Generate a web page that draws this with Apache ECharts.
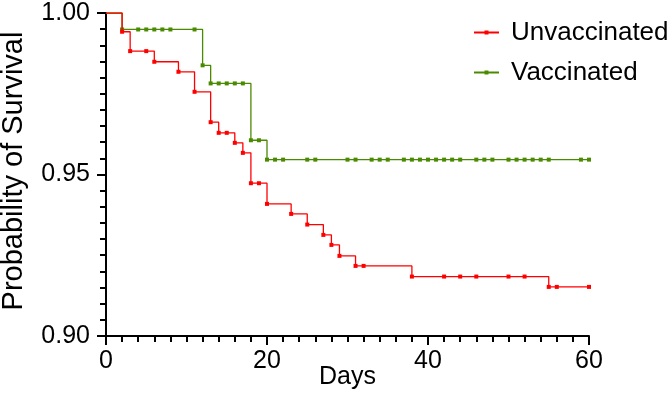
<!DOCTYPE html>
<html>
<head>
<meta charset="utf-8">
<script src="https://cdn.jsdelivr.net/npm/echarts@6/dist/echarts.min.js"></script>
<style>
html,body{margin:0;padding:0;background:#fff;}
#chart{width:669px;height:415px;}
</style>
</head>
<body>
<div id="chart"></div>
<script>
// Unvaccinated (red) Kaplan-Meier points: day, survival probability
var unvacDays = [0, 2, 3, 5, 6, 9, 11, 13, 14, 15, 16, 17, 18, 19, 20, 23, 25, 27, 28, 29, 31, 32, 38, 42, 44, 46, 50, 52, 55, 56, 60];
var unvacSurv = [1.0, 0.9942, 0.9882, 0.9882, 0.9849, 0.9818, 0.9756, 0.9662, 0.9629, 0.9629, 0.9598, 0.9567, 0.9473, 0.9473, 0.9409, 0.9378, 0.9345, 0.9313, 0.9282, 0.9248, 0.9217, 0.9217, 0.9184, 0.9184, 0.9184, 0.9184, 0.9184, 0.9184, 0.9152, 0.9152, 0.9152];

// Vaccinated (green)
var vacDays = [0, 2, 4, 5, 6, 7, 8, 11, 12, 13, 14, 15, 16, 17, 18, 19, 20, 21, 22, 25, 26, 30, 31, 33, 34, 35, 37, 38, 39, 40, 41, 42, 43, 44, 46, 47, 48, 50, 51, 52, 53, 54, 55, 59, 60];
var vacSurv = [1.0, 0.9949, 0.9949, 0.9949, 0.9949, 0.9949, 0.9949, 0.9949, 0.9838, 0.9782, 0.9782, 0.9782, 0.9782, 0.9782, 0.9606, 0.9606, 0.9546, 0.9546, 0.9546, 0.9546, 0.9546, 0.9546, 0.9546, 0.9546, 0.9546, 0.9546, 0.9546, 0.9546, 0.9546, 0.9546, 0.9546, 0.9546, 0.9546, 0.9546, 0.9546, 0.9546, 0.9546, 0.9546, 0.9546, 0.9546, 0.9546, 0.9546, 0.9546, 0.9546, 0.9546];

var seriesNames = ['Unvaccinated', 'Vaccinated'];
var xTickLabels = ['0', '20', '40', '60'];
var yTickLabels = ['0.90', '0.95', '1.00'];

var RED = '#ff0000';
var GREEN = '#4a8a00';
var FONT = '"Liberation Sans", Arial, Helvetica, sans-serif';

function build(days, surv) {
  return days.map(function (d, i) {
    var item = { value: [d, surv[i]] };
    if (i === 0) item.symbol = 'none';
    return item;
  });
}

var chart = echarts.init(document.getElementById('chart'), null, { renderer: 'canvas' });
chart.setOption({
  animation: false,
  backgroundColor: '#fff',
  grid: { left: 106, right: 80, top: 13, bottom: 79, containLabel: false, outerBoundsMode: 'none' },
  legend: {
    orient: 'vertical',
    left: 473,
    top: 19,
    padding: 0,
    itemWidth: 25,
    itemHeight: 5,
    itemGap: 13,
    data: seriesNames,
    textStyle: { fontFamily: FONT, fontSize: 26, color: '#000', lineHeight: 27, padding: [0, 0, 0, 7] }
  },
  xAxis: {
    type: 'value',
    min: 0, max: 60, interval: 20,
    name: 'Days',
    nameLocation: 'middle',
    nameGap: 29,
    nameMoveOverlap: false,
    nameTextStyle: { fontFamily: FONT, fontSize: 25, color: '#000' },
    axisLine: { lineStyle: { color: '#000', width: 2 } },
    axisTick: { length: 9, lineStyle: { color: '#000', width: 2 } },
    minorTick: { show: true, splitNumber: 10, length: 6, lineStyle: { color: '#000', width: 2 } },
    splitLine: { show: false },
    axisLabel: {
      margin: 13, fontFamily: FONT, fontSize: 25, color: '#000',
      formatter: function (v) { var i = xTickLabels.indexOf(String(v)); return i >= 0 ? xTickLabels[i] : ''; }
    }
  },
  yAxis: {
    type: 'value',
    min: 0.9, max: 1.0, interval: 0.05,
    name: 'Probability of Survival',
    nameLocation: 'middle',
    nameGap: 78,
    nameMoveOverlap: false,
    nameTextStyle: { fontFamily: FONT, fontSize: 29, color: '#000', padding: [0, 0, 0, 7] },
    axisLine: { show: true, lineStyle: { color: '#000', width: 2 } },
    axisTick: { show: true, length: 9, lineStyle: { color: '#000', width: 2 } },
    minorTick: { show: true, splitNumber: 10, length: 6, lineStyle: { color: '#000', width: 2 } },
    splitLine: { show: false },
    axisLabel: {
      margin: 16, fontFamily: FONT, fontSize: 25, color: '#000',
      formatter: function (v) { return v.toFixed(2); }
    }
  },
  series: [
    {
      name: 'Vaccinated', type: 'line', step: 'end',
      data: build(vacDays, vacSurv),
      symbol: 'rect', symbolSize: 4,
      itemStyle: { color: GREEN },
      lineStyle: { color: GREEN, width: 1.3 },
      z: 2
    },
    {
      name: 'Unvaccinated', type: 'line', step: 'end',
      data: build(unvacDays, unvacSurv),
      symbol: 'rect', symbolSize: 4,
      itemStyle: { color: RED },
      lineStyle: { color: RED, width: 1.3 },
      z: 3
    }
  ]
});
</script>
</body>
</html>
